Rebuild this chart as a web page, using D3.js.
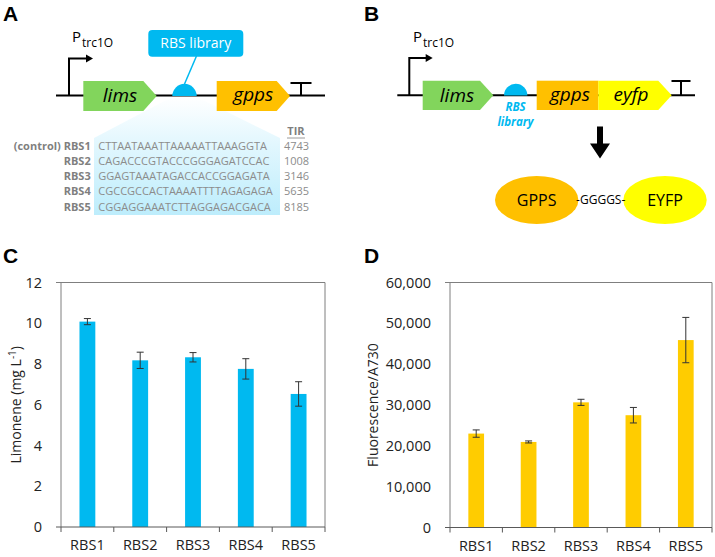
<!DOCTYPE html>
<html><head><meta charset="utf-8">
<script src="https://cdn.jsdelivr.net/npm/d3@7"></script>
<style>
body{margin:0;background:#fff}
svg{display:block}
text{font-family:"Open Sans",sans-serif}
</style></head>
<body><svg id="fig" width="715" height="557"></svg>
<script>
// ---------- data ----------
const categories = ["RBS1","RBS2","RBS3","RBS4","RBS5"];
const limonene = [10.08, 8.18, 8.33, 7.76, 6.53];
const limoneneErr = [0.15, 0.40, 0.23, 0.50, 0.60];
const fluorescence = [23000, 20950, 30650, 27500, 45900];
const fluorescenceErr = [900, 250, 750, 1900, 5550];
const ticksC = [0, 2, 4, 6, 8, 10, 12];
const ticksD = [0, 10000, 20000, 30000, 40000, 50000, 60000];
const rbsLabels = ["(control) RBS1","RBS2","RBS3","RBS4","RBS5"];
const rbsSeqs = ["CTTAATAAATTAAAAATTAAAGGTA","CAGACCCGTACCCGGGAGATCCAC","GGAGTAAATAGACCACCGGAGATA","CGCCGCCACTAAAATTTTAGAGAGA","CGGAGGAAATCTTAGGAGACGACA"];
const tirValues = [4743, 1008, 3146, 5635, 8185];

const svg = d3.select("#fig");
const defs = svg.append("defs");
const COL = {blue:"#00b9f0", green:"#82d55c", orange:"#ffc000", yellow:"#ffff00", gray:"#8c8c8c", bar2:"#ffcc00"};

// ---------- panel letters ----------
[["A",3,21],["B",364,21],["C",3,263],["D",364,263]].forEach(([t,x,y])=>{
  svg.append("text").attr("x",x).attr("y",y).text(t)
    .style("font-family","'Liberation Sans',Arial,sans-serif").style("font-weight","bold").style("font-size","21px");
});

function geneArrow(g, x0, xr, xt, yt, yb, fill){
  g.append("path").attr("d",`M${x0},${yt}L${xr},${yt}L${xt},${(yt+yb)/2}L${xr},${yb}L${x0},${yb}Z`).attr("fill",fill);
}
function promoter(g, x, yb, ytop, xend, sx, sy){
  g.append("path").attr("d",`M${x},${yb}V${ytop}H${xend-4}`).attr("fill","none").attr("stroke","#000").attr("stroke-width",2);
  g.append("path").attr("d",`M${xend-6},${ytop-4}L${xend+1},${ytop}L${xend-6},${ytop+4}Z`).attr("fill","#000");
  const t = g.append("text").attr("x",sx).attr("y",sy).style("font-size","15px");
  t.append("tspan").text("P");
  t.append("tspan").attr("dy",5).attr("dx",1).style("font-size","12px").text("trc1O");
}
function terminator(g, x, yb, yt, w){
  g.append("path").attr("d",`M${x},${yb}V${yt}M${x-w},${yt}H${x+w}`).attr("fill","none").attr("stroke","#000").attr("stroke-width",2);
}

// ---------- panel A ----------
const A = svg.append("g");
const grad = defs.append("linearGradient").attr("id","fun").attr("gradientUnits","userSpaceOnUse")
  .attr("x1",0).attr("x2",0).attr("y1",97).attr("y2",215);
grad.append("stop").attr("offset",0).attr("stop-color","#ffffff");
grad.append("stop").attr("offset",0.4).attr("stop-color","#e2f7fe");
grad.append("stop").attr("offset",1).attr("stop-color","#bdedfc");
A.append("path").attr("d","M172,97L197,97L280,138L280,215L94,215L94,138Z").attr("fill","url(#fun)");
A.append("line").attr("x1",56).attr("x2",325).attr("y1",95.5).attr("y2",95.5).attr("stroke","#000").attr("stroke-width",2);
promoter(A, 69, 95.5, 58.5, 92, 72, 42);
geneArrow(A, 83.3, 143.3, 156.7, 81, 111, COL.green);
geneArrow(A, 216.7, 276.7, 290, 81, 111, COL.orange);
terminator(A, 301, 95.5, 83, 10.5);
A.append("path").attr("d","M172.3,96A12.2,12.2 0 0 1 196.7,96Z").attr("fill",COL.blue);
A.append("line").attr("x1",196.5).attr("y1",56).attr("x2",184.5).attr("y2",84).attr("stroke",COL.blue).attr("stroke-width",1.5);
A.append("rect").attr("x",148.3).attr("y",30).attr("width",95).attr("height",26.7).attr("rx",4).attr("fill",COL.blue);
A.append("text").attr("x",195.8).attr("y",48).attr("text-anchor","middle").attr("fill","#fff").style("font-size","14px").text("RBS library");
A.append("text").attr("x",120).attr("y",102).attr("text-anchor","middle").style("font-size","19px").style("font-style","italic").text("lims");
A.append("text").attr("x",253.3).attr("y",101).attr("text-anchor","middle").style("font-size","19px").style("font-style","italic").text("gpps");
// table
A.append("text").attr("x",296).attr("y",135).attr("text-anchor","middle").attr("fill","#7f7f7f").style("font-size","11px").style("font-weight","bold").text("TIR");
A.append("line").attr("x1",287).attr("x2",305).attr("y1",138).attr("y2",138).attr("stroke","#9a9a9a").attr("stroke-width",1);
const rowY = d3.scaleLinear().domain([0,4]).range([149.5,210.5]);
rbsLabels.forEach((l,i)=>{
  A.append("text").attr("x",90.7).attr("y",rowY(i)).attr("text-anchor","end").attr("fill","#7f7f7f").style("font-size","11px").style("font-weight","bold").text(l);
  A.append("text").attr("x",98.3).attr("y",rowY(i)).attr("fill",COL.gray).style("font-size","11px").text(rbsSeqs[i]);
  A.append("text").attr("x",284).attr("y",rowY(i)).attr("fill",COL.gray).style("font-size","11px").text(tirValues[i]);
});

// ---------- panel B ----------
const B = svg.append("g");
B.append("line").attr("x1",397.3).attr("x2",695).attr("y1",95.3).attr("y2",95.3).attr("stroke","#000").attr("stroke-width",2);
promoter(B, 409.3, 95.3, 58, 431.7, 413, 42);
geneArrow(B, 422.7, 480, 493.3, 80.7, 110, COL.green);
B.append("rect").attr("x",536.7).attr("y",80.7).attr("width",61.6).attr("height",29.3).attr("fill",COL.orange);
geneArrow(B, 598.3, 658.3, 671.7, 80.7, 110, COL.yellow);
terminator(B, 681, 95.3, 81, 9.5);
B.append("path").attr("d","M504,95.5A11.7,11.7 0 0 1 527.4,95.5Z").attr("fill",COL.blue);
B.append("text").attr("x",457).attr("y",102).attr("text-anchor","middle").style("font-size","19px").style("font-style","italic").text("lims");
B.append("text").attr("x",570).attr("y",101).attr("text-anchor","middle").style("font-size","19px").style("font-style","italic").text("gpps");
B.append("text").attr("x",631).attr("y",101).attr("text-anchor","middle").style("font-size","19px").style("font-style","italic").text("eyfp");
B.append("text").attr("x",515.5).attr("y",111).attr("text-anchor","middle").attr("fill",COL.blue).style("font-size","11.5px").style("font-weight","bold").style("font-style","italic").text("RBS");
B.append("text").attr("x",515.5).attr("y",126).attr("text-anchor","middle").attr("fill",COL.blue).style("font-size","11.5px").style("font-weight","bold").style("font-style","italic").text("library");
B.append("path").attr("d","M597,126.5H603V143.5H610L600,158.5L590,143.5H597Z").attr("fill","#000");
B.append("ellipse").attr("cx",665).attr("cy",200).attr("rx",41.7).attr("ry",24).attr("fill",COL.yellow);
B.append("ellipse").attr("cx",536.7).attr("cy",200).attr("rx",41.7).attr("ry",24).attr("fill",COL.orange);
B.append("text").attr("x",536.7).attr("y",205.5).attr("text-anchor","middle").style("font-size","16px").text("GPPS");
B.append("text").attr("x",665).attr("y",205.5).attr("text-anchor","middle").style("font-size","16px").text("EYFP");
B.append("text").attr("x",600.7).attr("y",204).attr("text-anchor","middle").style("font-size","12px").text("-GGGGS-");

// ---------- bar charts ----------
function barChart(opt){
  const g = svg.append("g");
  const x = d3.scaleBand().domain(categories).range([opt.x0,opt.x1]).paddingInner(0.7).paddingOuter(0.35);
  const y = d3.scaleLinear().domain([0,opt.max]).range([opt.yb,opt.yt]);
  // frame
  g.append("line").attr("x1",opt.x0-5).attr("x2",opt.x1).attr("y1",opt.yt).attr("y2",opt.yt).attr("stroke","#7f7f7f");
  g.append("line").attr("x1",opt.x1).attr("x2",opt.x1).attr("y1",opt.yt).attr("y2",opt.yb).attr("stroke","#7f7f7f");
  g.append("line").attr("x1",opt.x0).attr("x2",opt.x0).attr("y1",opt.yt).attr("y2",opt.yb).attr("stroke","#7f7f7f");
  // bars
  g.selectAll("rect.bar").data(opt.vals).join("rect").attr("class","bar")
    .attr("x",(d,i)=>x(categories[i])).attr("width",x.bandwidth())
    .attr("y",d=>y(d)).attr("height",d=>y(0)-y(d)).attr("fill",opt.color);
  // error bars
  opt.vals.forEach((v,i)=>{
    const cx = x(categories[i])+x.bandwidth()/2, e = opt.errs[i];
    g.append("path").attr("d",`M${cx},${y(v+e)}V${y(v-e)}M${cx-3.5},${y(v+e)}H${cx+3.5}M${cx-3.5},${y(v-e)}H${cx+3.5}`)
      .attr("stroke","#333").attr("stroke-width",1).attr("fill","none");
  });
  // y axis labels
  const ya = g.append("g").attr("transform",`translate(${opt.x0},0)`)
    .call(d3.axisLeft(y).tickValues(opt.ticks).tickSize(0).tickPadding(19).tickFormat(opt.fmt));
  ya.select(".domain").remove();
  ya.selectAll("text").style("font-size","14.5px").style("font-family","'Open Sans',sans-serif").attr("fill","#222");
  // x axis
  const xa = g.append("g").attr("transform",`translate(0,${opt.yb})`)
    .call(d3.axisBottom(x).tickSize(0).tickPadding(13));
  xa.select(".domain").remove();
  xa.selectAll("text").style("font-size","14.5px").style("font-family","'Open Sans',sans-serif").attr("fill","#222");
  g.append("line").attr("x1",opt.x0-5).attr("x2",opt.x1).attr("y1",opt.yb).attr("y2",opt.yb).attr("stroke","#595959");
  d3.range(categories.length+1).forEach(i=>{
    const xx = opt.x0 + i*x.step();
    g.append("line").attr("x1",xx).attr("x2",xx).attr("y1",opt.yb).attr("y2",opt.yb+5).attr("stroke","#595959");
  });
  // title
  const t = g.append("text").attr("transform",`translate(${opt.tx},${(opt.yt+opt.yb)/2}) rotate(-90)`)
    .attr("text-anchor","middle").style("font-size","14px").attr("fill","#222");
  opt.title(t);
}

barChart({x0:61,x1:325,yt:282.5,yb:527,max:12,vals:limonene,errs:limoneneErr,ticks:ticksC,fmt:d3.format("d"),
  color:COL.blue,tx:21,title:t=>{t.append("tspan").text("Limonene (mg L");t.append("tspan").attr("dy",-5).style("font-size","10px").text("-1");t.append("tspan").attr("dy",5).text(")");}});
barChart({x0:450,x1:712,yt:282.5,yb:527.5,max:60000,vals:fluorescence,errs:fluorescenceErr,ticks:ticksD,fmt:d3.format(","),
  color:COL.bar2,tx:378,title:t=>{t.text("Fluorescence/A730");}});
</script></body></html>
